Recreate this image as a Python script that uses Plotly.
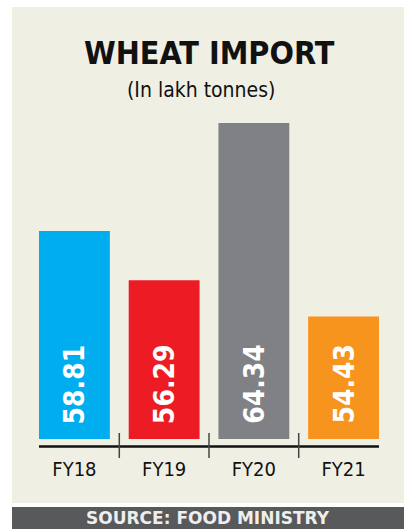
import plotly.graph_objects as go

categories = ["FY18", "FY19", "FY20", "FY21"]
values = [58.81, 56.29, 64.34, 54.43]
value_labels = ["58.81", "56.29", "64.34", "54.43"]
bar_colors = ["#00AEEF", "#ED1C24", "#808184", "#F7941D"]
title_text = "WHEAT IMPORT"
subtitle_text = "(In lakh tonnes)"
source_text = "SOURCE: FOOD MINISTRY"
y_min = 48.16
y_max = 65.01

W, H = 404, 529
L, R, T, B = 39, 379, 110, 439  # plot area in px


def px(x):
    return (x - L) / (R - L)


def py(y):
    return (B - y) / (B - T)


NARROW = "DejaVu Sans Condensed, Liberation Sans Narrow, Arial Narrow, sans-serif"

fig = go.Figure()
fig.add_trace(go.Bar(
    x=categories, y=values, marker=dict(color=bar_colors, line=dict(width=0)),
    width=0.79, hoverinfo="skip",
))

shapes = [
    dict(type="rect", xref="paper", yref="paper", x0=px(12), x1=px(404), y0=py(503), y1=py(7),
         fillcolor="#F0EFE4", line=dict(width=0), layer="below"),
    dict(type="rect", xref="paper", yref="paper", x0=px(12), x1=px(404), y0=py(529), y1=py(507),
         fillcolor="#58595B", line=dict(width=0), layer="below"),
    dict(type="line", xref="x", yref="paper", x0=-0.395, x1=3.395, y0=py(446.5), y1=py(446.5),
         line=dict(color="#111111", width=2.5)),
]
for i in range(len(categories) - 1):
    shapes.append(dict(type="line", xref="x", yref="paper", x0=i + 0.5, x1=i + 0.5,
                       y0=py(433), y1=py(458), line=dict(color="#444444", width=1.5)))

annotations = [
    dict(text=f"<b>{title_text}</b>", xref="paper", yref="paper", x=px(209), y=py(53),
         xanchor="center", yanchor="middle", showarrow=False,
         font=dict(family=NARROW, size=32, color="#111111")),
    dict(text=subtitle_text, xref="paper", yref="paper", x=px(201), y=py(90),
         xanchor="center", yanchor="middle", showarrow=False,
         font=dict(family=NARROW, size=21, color="#111111")),
    dict(text=f"<b>{source_text}</b>", xref="paper", yref="paper", x=px(208), y=py(518),
         xanchor="center", yanchor="middle", showarrow=False,
         font=dict(family="DejaVu Sans, Verdana, sans-serif", size=17, color="#EEEEEE")),
]
for c, lab in zip(categories, value_labels):
    annotations.append(dict(text=f"<b>{lab}</b>", x=c, y=y_min, xref="x", yref="y",
                            xanchor="center", yanchor="bottom", yshift=13, textangle=-90,
                            showarrow=False,
                            font=dict(family=NARROW, size=28, color="#FFFFFF")))

fig.update_layout(
    width=W, height=H,
    margin=dict(l=L, r=W - R, t=T, b=H - B, pad=0),
    paper_bgcolor="#FFFFFF", plot_bgcolor="rgba(0,0,0,0)",
    showlegend=False, shapes=shapes, annotations=annotations,
    xaxis=dict(range=[-0.395, 3.395], showgrid=False, zeroline=False, showline=False,
               ticks="", ticklabelstandoff=16,
               tickfont=dict(family=NARROW, size=20, color="#111111"), fixedrange=True),
    yaxis=dict(range=[y_min, y_max], visible=False, fixedrange=True),
)

fig.write_html("out.html", config={"displayModeBar": False})
